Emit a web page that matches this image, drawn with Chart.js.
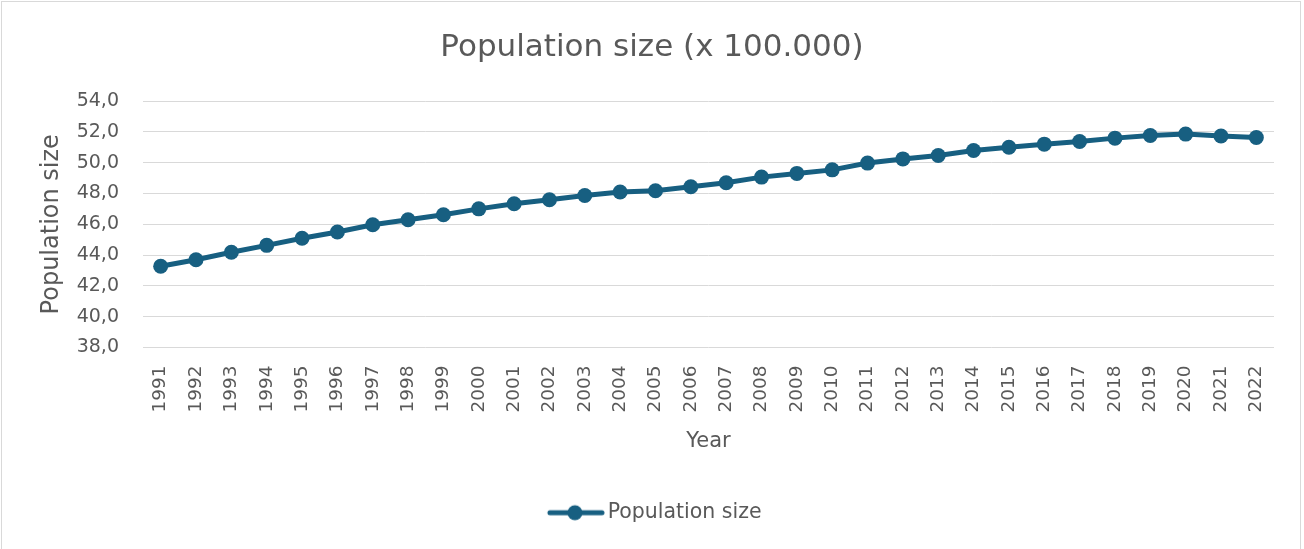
<!DOCTYPE html>
<html>
<head>
<meta charset="utf-8">
<script src="https://cdn.jsdelivr.net/npm/chart.js@4/dist/chart.umd.min.js"></script>
<style>
  html, body { margin: 0; padding: 0; background: #ffffff; }
  #wrap { width: 1304px; height: 549px; position: relative; }
</style>
</head>
<body>
<div id="wrap"><canvas id="c" width="1304" height="549"></canvas></div>
<script>
const years = ['1991','1992','1993','1994','1995','1996','1997','1998','1999','2000','2001','2002','2003','2004','2005','2006','2007','2008','2009','2010','2011','2012','2013','2014','2015','2016','2017','2018','2019','2020','2021','2022'];
const populationSize = [43.27, 43.70, 44.18, 44.63, 45.09, 45.50, 45.97, 46.29, 46.62, 47.00, 47.33, 47.59, 47.87, 48.09, 48.17, 48.43, 48.69, 49.06, 49.30, 49.53, 49.97, 50.24, 50.46, 50.79, 51.00, 51.20, 51.37, 51.59, 51.76, 51.85, 51.73, 51.63];
const seriesName = 'Population size';
const chartTitle = 'Population size (x 100.000)';
const xTitle = 'Year';
const yTitle = 'Population size';
const yMin = 38, yMax = 54, yStep = 2;

const FONT = "'DejaVu Sans', sans-serif";
const TEXT = '#595959';
const GRID = '#d9d9d9';
const LINE = '#175F81';

// legend marker: line with a circle (Excel-like)
const marker = document.createElement('canvas');
marker.width = 70; marker.height = 18;
(function () {
  const m = marker.getContext('2d');
  m.strokeStyle = LINE; m.lineWidth = 5; m.lineCap = 'round';
  m.beginPath(); m.moveTo(15, 9); m.lineTo(67, 9); m.stroke();
  m.fillStyle = LINE; m.beginPath(); m.arc(40, 9, 7.5, 0, Math.PI * 2); m.fill();
})();

const bgPlugin = {
  id: 'bg',
  beforeDraw(chart) {
    const ctx = chart.ctx;
    ctx.save();
    ctx.fillStyle = '#ffffff';
    ctx.fillRect(0, 0, chart.width, chart.height);
    ctx.strokeStyle = GRID;
    ctx.lineWidth = 1;
    ctx.strokeRect(1.5, 1.5, 1299, 600);
    ctx.restore();
  }
};

new Chart(document.getElementById('c'), {
  type: 'line',
  data: {
    labels: years,
    datasets: [{
      label: seriesName,
      data: populationSize,
      borderColor: LINE,
      backgroundColor: LINE,
      borderWidth: 5,
      pointRadius: 7.5,
      pointHoverRadius: 7.5,
      pointBackgroundColor: LINE,
      pointBorderColor: LINE,
      pointBorderWidth: 0,
      tension: 0,
      fill: false
    }]
  },
  options: {
    responsive: false,
    animation: false,
    devicePixelRatio: 1,
    layout: { padding: { left: 0, right: 0, top: 0, bottom: 16 } },
    plugins: {
      title: {
        display: true,
        text: chartTitle,
        color: TEXT,
        font: { family: FONT, size: 31, weight: 'normal', lineHeight: 1.2 },
        padding: { top: 29, bottom: 34.8 }
      },
      legend: {
        position: 'bottom',
        labels: {
          color: TEXT,
          font: { family: FONT, size: 20.5 },
          usePointStyle: true,
          pointStyleWidth: 55,
          padding: 10,
          generateLabels(chart) {
            return [{
              text: seriesName,
              fillStyle: LINE,
              strokeStyle: LINE,
              fontColor: TEXT,
              lineWidth: 0,
              pointStyle: marker,
              hidden: false,
              datasetIndex: 0
            }];
          }
        }
      },
      tooltip: { enabled: false }
    },
    scales: {
      x: {
        type: 'category',
        offset: true,
        grid: { display: false, drawTicks: false, tickLength: 0 },
        border: { display: false },
        ticks: {
          color: TEXT,
          font: { family: FONT, size: 18.5 },
          autoSkip: false,
          minRotation: 90,
          maxRotation: 90,
          padding: 18
        },
        title: {
          display: true,
          text: xTitle,
          color: TEXT,
          font: { family: FONT, size: 21, lineHeight: 1.2 },
          padding: { top: 4, bottom: 38 }
        },
        afterFit(scale) { scale.height = 145; }
      },
      y: {
        min: yMin,
        max: yMax,
        grid: { color: GRID, lineWidth: 1, drawTicks: false, tickLength: 0 },
        border: { display: false },
        ticks: {
          stepSize: yStep,
          color: TEXT,
          font: { family: FONT, size: 19 },
          padding: 24,
          callback: (v) => Number(v).toFixed(1).replace('.', ',')
        },
        title: {
          display: true,
          text: yTitle,
          color: TEXT,
          font: { family: FONT, size: 24, lineHeight: 1.2 },
          padding: { top: 37, bottom: 0 }
        },
        afterFit(scale) { scale.width = 143; }
      },
      yRightSpace: {
        type: 'linear',
        position: 'right',
        display: true,
        grid: { display: false, drawTicks: false },
        border: { display: false },
        ticks: { display: false },
        title: { display: false },
        afterFit(scale) { scale.width = 30; }
      }
    }
  },
  plugins: [bgPlugin]
});
</script>
</body>
</html>
